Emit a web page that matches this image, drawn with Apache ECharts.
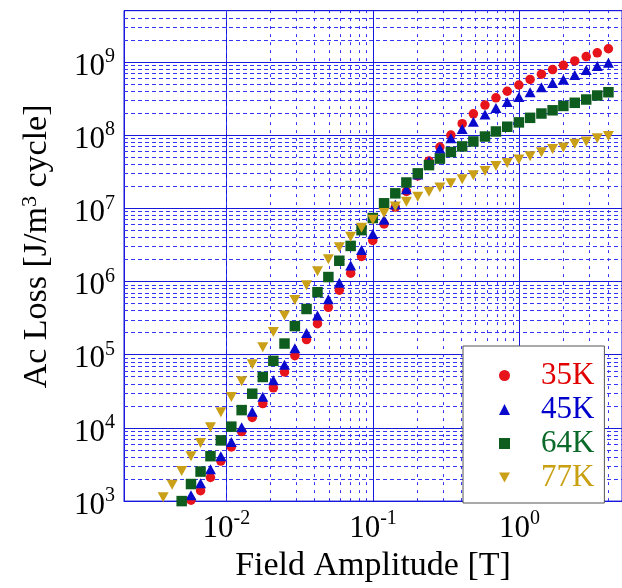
<!DOCTYPE html>
<html><head><meta charset="utf-8">
<script src="https://cdn.jsdelivr.net/npm/echarts@6/dist/echarts.min.js"></script>
<style>html,body{margin:0;padding:0;background:#fff}#c{width:622px;height:588px}</style>
</head><body><div id="c"></div>
<script>
// Field amplitude [T] (shared measurement points)
const fieldT = [0.00370, 0.00426, 0.00495, 0.00573, 0.00666, 0.00778, 0.00916, 0.0108, 0.0127, 0.0150,
  0.0177, 0.0209, 0.0249, 0.0293, 0.0352, 0.0418, 0.0496, 0.0589, 0.0704, 0.0835,
  0.0997, 0.119, 0.142, 0.169, 0.202, 0.241, 0.286, 0.340, 0.406, 0.484,
  0.581, 0.690, 0.824, 0.989, 1.18, 1.41, 1.68, 1.99, 2.38, 2.85, 3.39, 4.04];

// Ac loss [J/m^3 cycle]
const loss35K = [null, null, null, 1030, 1390, 2100, 3520, 5500, 8900, 13900,
  21500, 35300, 58000, 96900, 161000, 265000, 443000, 759000, 1.30e6, 2.20e6,
  3.64e6, 6.11e6, 1.04e7, 1.70e7, 2.76e7, 4.44e7, 6.85e7, 1.00e8, 1.43e8, 1.95e8,
  2.57e8, 3.23e8, 3.97e8, 4.83e8, 5.76e8, 6.79e8, 7.85e8, 8.97e8, 1.03e9, 1.18e9, 1.33e9, 1.51e9];
const loss45K = [null, null, null, 1200, 1760, 2720, 4110, 6420, 10200, 16600,
  26700, 44700, 72700, 122000, 198000, 342000, 574000, 961000, 1.65e6, 2.70e6,
  4.44e6, 6.98e6, 1.13e7, 1.82e7, 2.90e7, 4.40e7, 6.50e7, 9.06e7, 1.21e8, 1.52e8,
  1.91e8, 2.35e8, 2.82e8, 3.30e8, 3.85e8, 4.50e8, 5.15e8, 5.76e8, 6.64e8, 7.76e8, 8.78e8, 9.75e8];
const loss64K = [null, null, 1000, 1710, 2530, 4110, 6750, 10400, 17500, 29300,
  49600, 82300, 142000, 246000, 421000, 714000, 1.15e6, 1.92e6, 3.06e6, 5.03e6,
  7.36e6, 1.17e7, 1.60e7, 2.25e7, 3.00e7, 3.89e7, 4.77e7, 5.87e7, 7.00e7, 8.18e7,
  9.55e7, 1.12e8, 1.30e8, 1.49e8, 1.72e8, 1.97e8, 2.18e8, 2.50e8, 2.76e8, 3.06e8, 3.47e8, 3.85e8];
const loss77K = [1130, 1670, 2580, 4110, 6220, 10200, 16300, 26400, 43300, 74300,
  126000, 204000, 342000, 557000, 886000, 1.38e6, 2.02e6, 2.93e6, 4.08e6, 5.40e6,
  6.98e6, 8.59e6, 1.06e7, 1.23e7, 1.44e7, 1.68e7, 1.92e7, 2.20e7, 2.49e7, 2.82e7,
  3.23e7, 3.77e7, 4.17e7, 4.62e7, 5.14e7, 5.81e7, 6.44e7, 6.79e7, 7.59e7, 8.18e7, 9.06e7, 9.72e7];

const seriesNames = ['35K', '45K', '64K', '77K'];
const xDecades = [-3, -2, -1, 0];
const yDecades = [3, 4, 5, 6, 7, 8, 9];

const FONT = 'Liberation Serif';
const BLUE = '#1818dc';
const MINOR = '#3434f4';

function pairs(vals) {
  const out = [];
  for (let i = 0; i < fieldT.length; i++) if (vals[i] != null) out.push([fieldT[i], vals[i]]);
  return out;
}
function powLabel(v) {
  const e = Math.log10(v), r = Math.round(e);
  if (Math.abs(e - r) > 1e-6) return '';
  return '{b|10}{s|' + r + '}';
}
const rich = {
  b: { fontFamily: FONT, fontSize: 31, color: '#000', padding: [9, 0, 0, 0] },
  s: { fontFamily: FONT, fontSize: 20, color: '#000', padding: [0, 0, 10, 0] }
};

const xMin = 0.002, xMax = 5, yMin = 1e3, yMax = 5e9;
const xMinor = [], yMinor = [];
xDecades.forEach(d => { for (let k = 2; k <= 9; k++) { const v = k * Math.pow(10, d); if (v > xMin * 1.001 && v < xMax * 0.999) xMinor.push({ xAxis: v }); } });
yDecades.forEach(d => { for (let k = 2; k <= 9; k++) { const v = k * Math.pow(10, d); if (v > yMin * 1.001 && v < yMax * 0.999) yMinor.push({ yAxis: v }); } });

const chart = echarts.init(document.getElementById('c'), null, { renderer: 'canvas' });
chart.setOption({
  animation: false,
  backgroundColor: '#fff',
  textStyle: { fontFamily: FONT },
  grid: { left: 124, top: 10.7, right: -2.2, bottom: 79.7, show: true, borderColor: BLUE, borderWidth: 1, backgroundColor: '#fff' },
  xAxis: {
    type: 'log', logBase: 10, min: xMin, max: xMax,
    name: 'Field Amplitude [T]', nameLocation: 'middle', nameGap: 45,
    nameTextStyle: { fontFamily: FONT, fontSize: 34, color: '#000' },
    axisLine: { show: true, lineStyle: { color: BLUE, width: 1 } },
    axisTick: { show: false },
    axisLabel: { margin: 3, formatter: powLabel, rich: rich, showMinLabel: false, showMaxLabel: false },
    splitLine: { show: true, lineStyle: { color: BLUE, width: 1, type: 'solid' } },
    minorTick: { show: false }, minorSplitLine: { show: false }
  },
  yAxis: {
    type: 'log', logBase: 10, min: yMin, max: yMax,
    name: '{b|Ac Loss [J/m}{s|3}{b| cycle]}', nameLocation: 'middle', nameGap: 69, nameRotate: 90,
    nameTextStyle: {
      fontFamily: FONT, fontSize: 34, color: '#000', padding: [0, 0, 0, 19],
      rich: {
        b: { fontFamily: FONT, fontSize: 34, color: '#000' },
        s: { fontFamily: FONT, fontSize: 22, color: '#000', padding: [0, 0, 14, 0] }
      }
    },
    axisLine: { show: true, lineStyle: { color: BLUE, width: 1 } },
    axisTick: { show: false },
    axisLabel: { margin: 9, formatter: powLabel, rich: rich, showMaxLabel: false },
    splitLine: { show: true, lineStyle: { color: BLUE, width: 1, type: 'solid' } },
    minorTick: { show: false }, minorSplitLine: { show: false }
  },
  legend: {
    left: 463, top: 346, orient: 'vertical', z: 10,
    padding: [14, 10, 10, 36], itemGap: 3, itemWidth: 11, itemHeight: 11, symbolKeepAspect: true,
    backgroundColor: '#fff', borderColor: '#555', borderWidth: 1, borderRadius: 0,
    textStyle: { fontFamily: FONT, fontSize: 31, lineHeight: 30, padding: [0, 0, 0, 26] },
    data: [
      { name: '35K', textStyle: { color: '#e00000' } },
      { name: '45K', textStyle: { color: '#0000cc' } },
      { name: '64K', textStyle: { color: '#0b6a2a' } },
      { name: '77K', textStyle: { color: '#c8a012' } }
    ],
    selectedMode: false
  },
  series: [
    {
      type: 'scatter', name: 'gridX', data: [], z: 1, silent: true,
      markLine: { silent: true, z: 1, symbol: ['none', 'none'], label: { show: false },
        lineStyle: { color: MINOR, width: 1, type: [3, 5] }, emphasis: { disabled: true }, data: xMinor }
    },
    {
      type: 'scatter', name: 'gridY', data: [], z: 1, silent: true,
      markLine: { silent: true, z: 1, symbol: ['none', 'none'], label: { show: false },
        lineStyle: { color: MINOR, width: 1, type: [4, 3] }, emphasis: { disabled: true }, data: yMinor }
    },
    { type: 'scatter', name: seriesNames[0], data: pairs(loss35K), symbol: 'circle', symbolSize: 9.5,
      itemStyle: { color: '#e8141c', opacity: 1 }, z: 3 },
    { type: 'scatter', name: seriesNames[1], data: pairs(loss45K), symbol: 'triangle', symbolSize: [11, 10],
      itemStyle: { color: '#0a0acc', opacity: 1 }, z: 3 },
    { type: 'scatter', name: seriesNames[2], data: pairs(loss64K), symbol: 'rect', symbolSize: 10.5,
      itemStyle: { color: '#0e5c1e', opacity: 1 }, z: 3 },
    { type: 'scatter', name: seriesNames[3], data: pairs(loss77K), symbol: 'path://M0,0L10,0L5,9Z', symbolSize: [11, 10],
      itemStyle: { color: '#c9a018', opacity: 1 }, z: 3 }
  ]
});
</script>
</body></html>
